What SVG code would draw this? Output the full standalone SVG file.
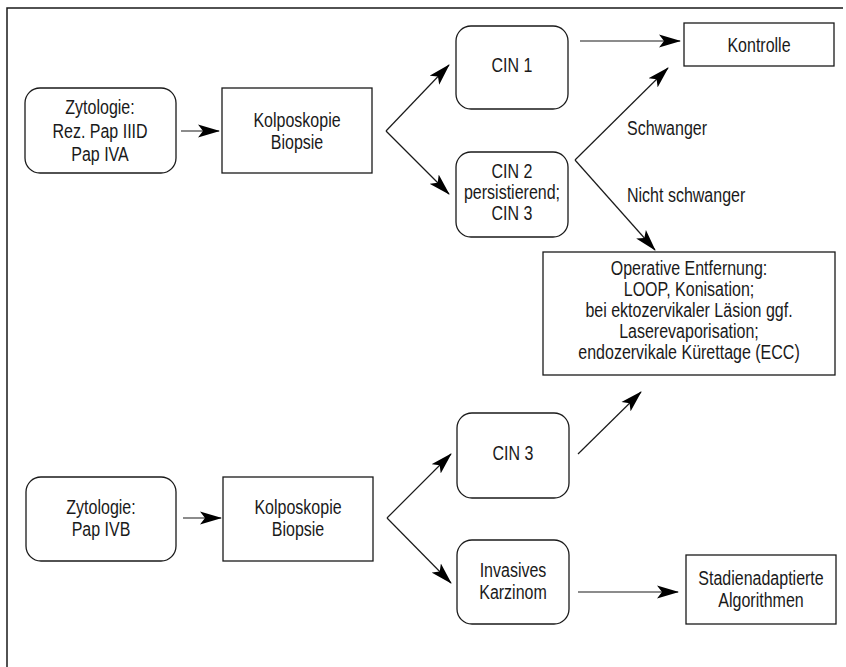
<svg xmlns="http://www.w3.org/2000/svg" width="846" height="667" viewBox="0 0 846 667">
<style>
.b{fill:#fff;stroke:#1a1a1a;stroke-width:1.3}
.t{font-family:"Liberation Sans",Arial,sans-serif;font-size:20px;fill:#1a1a1a;text-anchor:middle}
.l{font-family:"Liberation Sans",Arial,sans-serif;font-size:20px;fill:#1a1a1a}
.c{fill:none;stroke:#1a1a1a;stroke-width:1.2}
.a{marker-end:url(#ah)}
</style>
<defs>
<marker id="ah" viewBox="0 -7 22 14" refX="21" refY="0" markerUnits="userSpaceOnUse" markerWidth="22" markerHeight="14" orient="auto">
<path d="M0,-6.5 L22,0 L0,6.5 L5,0 z" fill="#000"/>
</marker>
</defs>
<rect width="846" height="667" fill="#fff"/>
<path d="M7,667 V8 H843" fill="none" stroke="#1a1a1a" stroke-width="1.5"/>
<g id="zyt1"><rect class="b" x="25" y="88" width="151" height="85" rx="15"/><text class="t" transform="translate(100,114) scale(0.8,1)">Zytologie:</text><text class="t" transform="translate(100,138) scale(0.8,1)">Rez. Pap IIID</text><text class="t" transform="translate(100,161) scale(0.8,1)">Pap IVA</text></g>
<g id="kolpo1"><rect class="b" x="222" y="88" width="150" height="85"/><text class="t" transform="translate(297,127) scale(0.8,1)">Kolposkopie</text><text class="t" transform="translate(297,149) scale(0.8,1)">Biopsie</text></g>
<g id="cin1"><rect class="b" x="456" y="26" width="112" height="83" rx="15"/><text class="t" transform="translate(512,72) scale(0.8,1)">CIN 1</text></g>
<g id="cin23"><rect class="b" x="456" y="152" width="112" height="85" rx="15"/><text class="t" transform="translate(512,178) scale(0.8,1)">CIN 2</text><text class="t" transform="translate(512,199) scale(0.8,1)">persistierend;</text><text class="t" transform="translate(512,220) scale(0.8,1)">CIN 3</text></g>
<g id="kontrolle"><rect class="b" x="684" y="23" width="150" height="43"/><text class="t" transform="translate(759,52) scale(0.8,1)">Kontrolle</text></g>
<g id="operativ"><rect class="b" x="543" y="252" width="292" height="123"/><text class="t" transform="translate(689,275) scale(0.8,1)">Operative Entfernung:</text><text class="t" transform="translate(689,296) scale(0.8,1)">LOOP, Konisation;</text><text class="t" transform="translate(689,317) scale(0.8,1)">bei ektozervikaler Läsion ggf.</text><text class="t" transform="translate(689,338) scale(0.8,1)">Laserevaporisation;</text><text class="t" transform="translate(689,359) scale(0.8,1)">endozervikale Kürettage (ECC)</text></g>
<g id="zyt2"><rect class="b" x="26" y="477" width="150" height="84" rx="15"/><text class="t" transform="translate(101,514) scale(0.8,1)">Zytologie:</text><text class="t" transform="translate(101,536) scale(0.8,1)">Pap IVB</text></g>
<g id="kolpo2"><rect class="b" x="223" y="477" width="150" height="84"/><text class="t" transform="translate(298,514) scale(0.8,1)">Kolposkopie</text><text class="t" transform="translate(298,536) scale(0.8,1)">Biopsie</text></g>
<g id="cin3"><rect class="b" x="457" y="413" width="112" height="85" rx="15"/><text class="t" transform="translate(513,460) scale(0.8,1)">CIN 3</text></g>
<g id="invasiv"><rect class="b" x="457" y="540" width="112" height="84" rx="15"/><text class="t" transform="translate(513,577) scale(0.8,1)">Invasives</text><text class="t" transform="translate(513,599) scale(0.8,1)">Karzinom</text></g>
<g id="stadien"><rect class="b" x="686" y="555" width="150" height="69"/><text class="t" transform="translate(761,585) scale(0.8,1)">Stadienadaptierte</text><text class="t" transform="translate(761,607) scale(0.8,1)">Algorithmen</text></g>
<g id="connectors">
<line class="c a" x1="181" y1="131" x2="219" y2="131"/>
<line class="c a" x1="386" y1="131" x2="449" y2="65"/>
<line class="c a" x1="386" y1="131" x2="449" y2="194"/>
<line class="c a" x1="580" y1="41" x2="680" y2="41"/>
<line class="c a" x1="575" y1="160" x2="668" y2="68"/>
<line class="c a" x1="575" y1="160" x2="655" y2="250"/>
<line class="c a" x1="183" y1="518" x2="221" y2="518"/>
<line class="c a" x1="387" y1="518" x2="451" y2="454"/>
<line class="c a" x1="387" y1="518" x2="451" y2="583"/>
<line class="c a" x1="578" y1="454" x2="641" y2="392"/>
<line class="c a" x1="578" y1="592" x2="678" y2="592"/>
<text class="l" transform="translate(627,135) scale(0.8,1)">Schwanger</text>
<text class="l" transform="translate(627,202) scale(0.8,1)">Nicht schwanger</text>
</g>
</svg>
